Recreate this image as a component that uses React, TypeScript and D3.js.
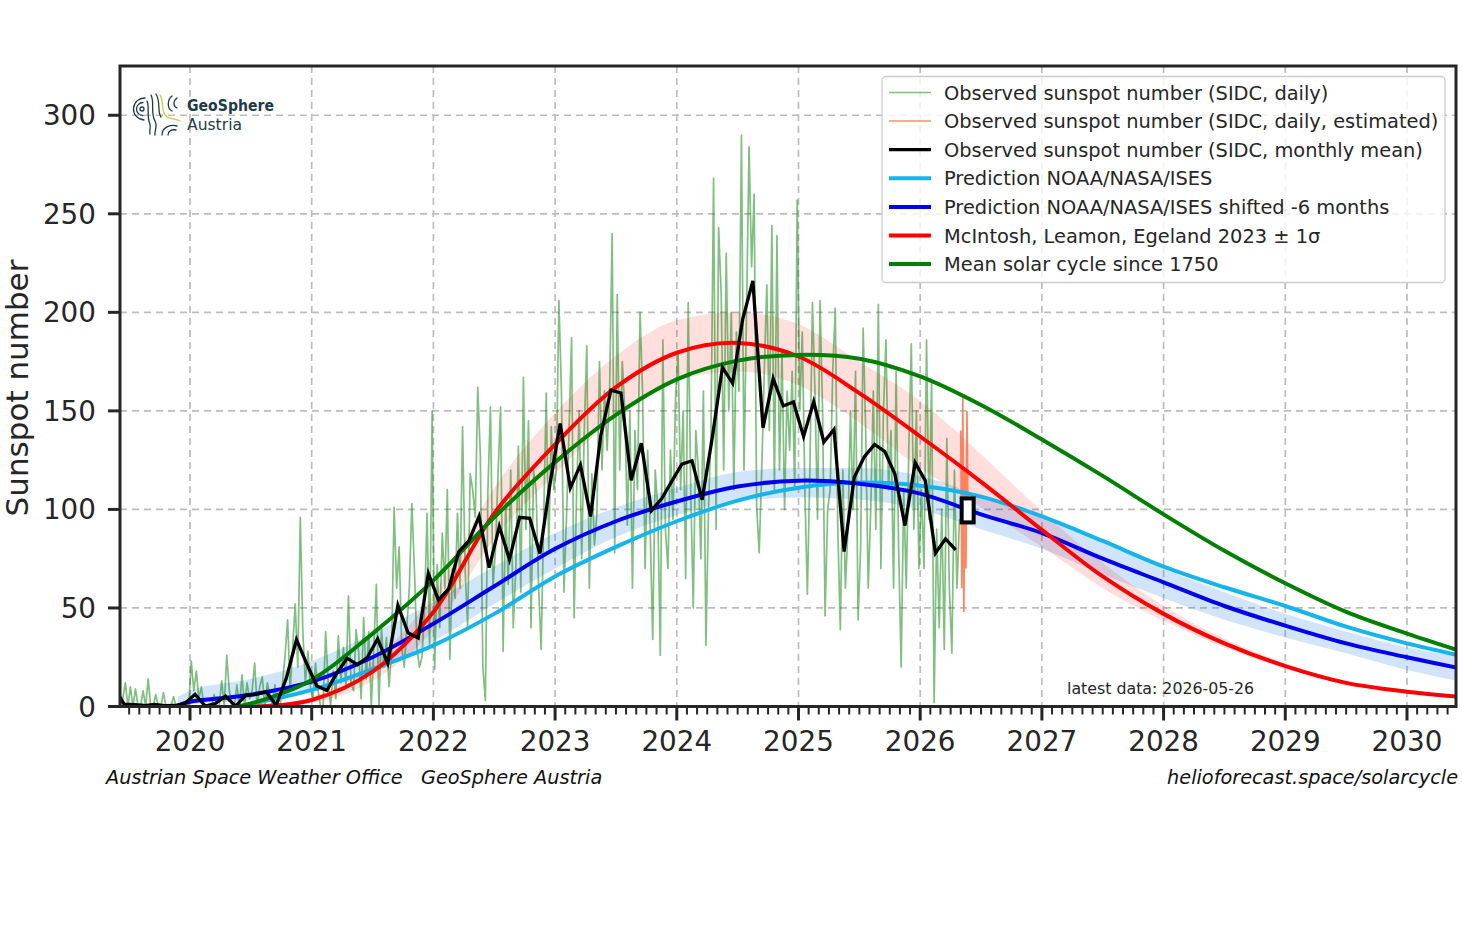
import React from "react";
import * as d3 from "d3";

// ---------------- data ----------------
const yTickValues = [0, 50, 100, 150, 200, 250, 300];
const xTickYears = [2020, 2021, 2022, 2023, 2024, 2025, 2026, 2027, 2028, 2029, 2030];

// SIDC monthly mean, from May 2019, plotted at mid-month
const monthlyStart = 2019 + 4 / 12;
const monthlyMean = [
  9.9, 1.2, 0.9, 0.5, 1.1, 0.4, 0.5, 1.5,
  6.2, 0.2, 1.5, 5.2, 0.2, 5.8, 6.1, 7.5, 0.6, 14.4, 34.0, 21.8,
  10.4, 8.2, 17.2, 24.5, 21.2, 25.0, 34.3, 22.0, 51.3, 37.4, 34.8, 67.5,
  54.0, 59.7, 78.5, 84.1, 96.5, 70.5, 91.4, 74.6, 96.0, 95.5, 77.6, 113.1,
  143.6, 110.9, 122.6, 96.4, 137.4, 160.5, 159.1, 114.8, 133.6, 99.4, 105.4, 114.2,
  123.0, 124.7, 104.9, 136.5, 172.1, 164.0, 196.6, 216.0, 141.4, 166.4, 152.5, 154.5,
  137.0, 154.6, 134.2, 140.6, 78.6, 116.3, 126.8, 133.0, 129.5, 118.0, 91.8, 123.7,
  114.6, 77.8, 85.1, 79.5,
];

// SIDC daily values (4 samples per month), from June 2019
const dailyStart = 2019 + 5 / 12;
const dailyObserved = [
  // 2019 Jun-Dec
  0, 4, 12, 0, 10, 0, 9, 0, 0, 8, 0, 14, 0, 0, 6, 0, 0, 7, 0, 0, 0, 5, 0, 0, 0, 0, 3, 0,
  // 2020
  23, 8, 18, 4, 10, 0, 0, 0, 0, 6, 0, 0, 13, 0, 26, 8, 0, 0, 11, 0, 16, 0, 12, 4,
  8, 22, 0, 10, 15, 0, 12, 6, 0, 11, 0, 0, 12, 26, 44, 8, 30, 52, 20, 96, 38, 12, 28, 10,
  // 2021
  4, 22, 8, 0, 0, 38, 12, 0, 18, 4, 36, 12, 30, 10, 56, 12, 8, 39, 28, 4, 45, 14, 38, 0,
  30, 62, 0, 40, 20, 35, 10, 28, 101, 60, 81, 30, 20, 40, 60, 103, 70, 30, 20, 25, 50, 98, 30, 150,
  // 2022
  19, 72, 40, 88, 60, 110, 24, 70, 55, 98, 60, 142, 70, 40, 118, 110, 96, 162, 128, 20, 3, 110, 152, 60,
  80, 118, 152, 28, 104, 62, 120, 40, 70, 132, 58, 167, 90, 145, 40, 120, 110, 60, 29, 95, 159, 80, 142, 110,
  // 2023
  120, 206, 160, 58, 96, 140, 187, 45, 110, 150, 75, 140, 183, 60, 118, 82, 98, 175, 120, 160, 130, 160, 240, 78,
  209, 120, 175, 150, 92, 150, 60, 140, 110, 200, 160, 70, 130, 90, 34, 120, 100, 26, 186, 90, 70, 130, 95, 156,
  // 2024
  180, 110, 150, 65, 205, 110, 50, 140, 120, 75, 160, 31, 100, 140, 268, 90, 243, 210, 120, 230, 150, 200, 110, 190,
  160, 290, 120, 200, 284, 223, 260, 101, 78, 120, 170, 214, 140, 244, 110, 239, 120, 180, 100, 160, 130, 170, 110, 257,
  // 2025
  150, 190, 110, 57, 120, 205, 160, 95, 206, 150, 46, 100, 110, 170, 202, 90, 39, 120, 60, 90, 150, 100, 170, 44,
  80, 192, 140, 60, 100, 160, 90, 204, 70, 150, 186, 110, 140, 60, 170, 80, 20, 110, 60, 130, 184, 90, 150, 70,
  // 2026 Jan-Apr
  110, 70, 186, 95, 165, 2, 90, 40, 100, 29, 136, 60, 27, 120, 60, 95,
];

// SIDC daily, estimated (May 2026)
const estimatedStart = 2026 + 4 / 12;
const estimatedDaily = [140, 60, 157, 48, 120, 70, 150, 95];

// Prediction NOAA/NASA/ISES
const noaaYears = [2020.4, 2020.5, 2021, 2021.5, 2022, 2022.5, 2023, 2023.5, 2024, 2024.5, 2025, 2025.5, 2026, 2026.5, 2027, 2027.5, 2028, 2028.5, 2029, 2029.5, 2030, 2030.5];
const noaaValues = [0, 1.2, 8.4, 19, 31, 47, 66, 81, 94, 104.5, 111, 113.6, 112, 106.5, 96.5, 84, 71, 60.5, 51, 40.5, 32, 25];

// Prediction NOAA/NASA/ISES shifted -6 months, with band
const shiftedYears = [2019.9, 2020, 2020.5, 2021, 2021.5, 2022, 2022.5, 2023, 2023.5, 2024, 2024.5, 2025, 2025.5, 2026, 2026.5, 2027, 2027.5, 2028, 2028.5, 2029, 2029.5, 2030, 2030.5];
const shiftedValues = [0.5, 2.4, 6, 12.6, 25, 42, 61, 80, 94, 104, 111.6, 114.6, 113, 108, 97.5, 88, 75, 63, 51, 41, 32, 25, 18.5];
const shiftedLow = [0, 1, 3, 8, 17, 33, 52, 70, 86, 97, 104, 106, 105, 100, 90, 80, 67, 55, 44, 35, 27, 18.5, 12];
const shiftedHigh = [5, 8, 14, 23, 37, 53, 71, 88, 101, 111, 119, 121, 121, 117, 107, 97, 84, 70, 58, 47, 38, 30, 25];

// McIntosh, Leamon, Egeland 2023 +- 1 sigma
const mclYears = [2020.55, 2021, 2021.5, 2022, 2022.5, 2023, 2023.5, 2024, 2024.5, 2025, 2025.5, 2026, 2026.5, 2027, 2027.5, 2028, 2028.5, 2029, 2029.5, 2030, 2030.5];
const mclValues = [0, 3.3, 17.7, 48, 98, 133, 162, 179.5, 184.5, 177.6, 159, 137, 114, 89.6, 66, 47, 32, 20.5, 12, 7.5, 4.5];
const mclLow = [0, 2, 13, 39, 85, 118, 147, 165, 170, 163, 144, 121, 101, 81, 60, 43.5, 30, 19.5, 11.3, 7, 4.2];
const mclHigh = [0, 5, 23, 57, 111, 149, 178, 196, 200, 194, 175, 155, 128, 99, 73, 51, 34.5, 22, 13, 8.5, 5.2];

// Mean solar cycle since 1750
const meanYears = [2020.38, 2020.5, 2021, 2021.5, 2022, 2022.5, 2023, 2023.5, 2024, 2024.5, 2025, 2025.5, 2026, 2026.5, 2027, 2027.5, 2028, 2028.5, 2029, 2029.5, 2030, 2030.5];
const meanValues = [0, 1.5, 13.5, 37, 64, 96, 124, 148, 166, 175.5, 178.4, 176.5, 167.5, 153, 135.5, 117, 97.5, 79, 62.5, 48, 37, 27];

// current position marker
const markerYear = 2026.39;
const markerValue = 99.5;

const legendLabels = [
  "Observed sunspot number (SIDC, daily)",
  "Observed sunspot number (SIDC, daily, estimated)",
  "Observed sunspot number (SIDC, monthly mean)",
  "Prediction NOAA/NASA/ISES",
  "Prediction NOAA/NASA/ISES shifted -6 months",
  "McIntosh, Leamon, Egeland 2023 \u00b1 1\u03c3",
  "Mean solar cycle since 1750",
];
const latestDataText = "latest data: 2026-05-26";

// ---------------- styles ----------------
const C = {
  text: "#262626",
  daily: "#008000",
  est: "#ff7043",
  monthly: "#000000",
  noaa: "#14b4ec",
  shifted: "#0000ee",
  mcl: "#ff0000",
  mean: "#008000",
  grid: "#bdbdbd",
  logo: "#1d3b47",
};
const legendStyles = [
  { stroke: C.daily, w: 1.5, op: 0.5 },
  { stroke: C.est, w: 1.5, op: 0.8 },
  { stroke: C.monthly, w: 3.2, op: 1 },
  { stroke: C.noaa, w: 4, op: 1 },
  { stroke: C.shifted, w: 4, op: 1 },
  { stroke: C.mcl, w: 4, op: 1 },
  { stroke: C.mean, w: 4, op: 1 },
];

const L = 120, R = 1456, T = 66, B = 706.5;
const FONT = "'DejaVu Sans', sans-serif";

export default function App() {
  const x = d3.scaleLinear().domain([2019.4248, 2030.4027]).range([L, R]);
  const y = d3.scaleLinear().domain([0, 325]).range([B, T]);

  const smooth = d3.curveCatmullRom.alpha(0.5);

  const mkLine = (years: number[], vals: number[], curve: any) =>
    d3.line<number>().x((_, i) => x(years[i])).y((d) => y(d)).curve(curve)(vals) || "";
  const mkArea = (years: number[], lo: number[], hi: number[]) =>
    d3.area<number>()
      .x((_, i) => x(years[i]))
      .y0((_, i) => y(lo[i]))
      .y1((_, i) => y(hi[i]))
      .curve(d3.curveMonotoneX)(lo) || "";

  const dailyYears = dailyObserved.map((_, i) => dailyStart + (i + 0.5) / 48);
  const estYears = estimatedDaily.map((_, i) => estimatedStart + (i * 0.068) / 8);
  const monthlyYears = monthlyMean.map((_, i) => monthlyStart + (i + 0.5) / 12);

  const minorTicks: number[] = [];
  for (let m = 0; m < 12 * 12; m++) {
    const t = 2019 + m / 12;
    if (t > x.domain()[0] && t < x.domain()[1] && m % 12 !== 0) minorTicks.push(t);
  }

  return (
    <svg
      width={1462}
      height={946}
      style={{ position: "absolute", left: 0, top: 0, background: "#fff" }}
      fontFamily={FONT}
    >
      <defs>
        <clipPath id="plotClip">
          <rect x={L} y={T} width={R - L} height={B - T} />
        </clipPath>
      </defs>
      <rect x={0} y={0} width={1462} height={946} fill="#fff" />

      {/* grid */}
      <g stroke={C.grid} strokeWidth={1.7} strokeDasharray="7,5">
        {xTickYears.map((t) => (
          <line key={"gx" + t} x1={x(t)} x2={x(t)} y1={T} y2={B} />
        ))}
        {yTickValues.map((v) => (
          <line key={"gy" + v} x1={L} x2={R} y1={y(v)} y2={y(v)} />
        ))}
      </g>

      <g clipPath="url(#plotClip)">
        {/* bands */}
        <path d={mkArea(shiftedYears, shiftedLow, shiftedHigh)} fill="#1e78e6" fillOpacity={0.2} />
        <path d={mkArea(mclYears, mclLow, mclHigh)} fill="#ff0000" fillOpacity={0.13} />

        {/* daily */}
        <path
          d={mkLine(dailyYears, dailyObserved, d3.curveLinear)}
          fill="none"
          stroke={C.daily}
          strokeOpacity={0.5}
          strokeWidth={1.7}
          strokeLinejoin="round"
        />
        <path
          d={mkLine(estYears, estimatedDaily, d3.curveLinear)}
          fill="none"
          stroke={C.est}
          strokeOpacity={0.85}
          strokeWidth={1.7}
        />

        {/* predictions */}
        <path d={mkLine(noaaYears, noaaValues, smooth)} fill="none" stroke={C.noaa} strokeWidth={4} />
        <path d={mkLine(shiftedYears, shiftedValues, smooth)} fill="none" stroke={C.shifted} strokeWidth={4} />
        <path d={mkLine(mclYears, mclValues, smooth)} fill="none" stroke={C.mcl} strokeWidth={4} />
        <path d={mkLine(meanYears, meanValues, smooth)} fill="none" stroke={C.mean} strokeWidth={4} />

        {/* monthly mean */}
        <path
          d={mkLine(monthlyYears, monthlyMean, d3.curveLinear)}
          fill="none"
          stroke={C.monthly}
          strokeWidth={3.3}
          strokeLinejoin="miter"
        />

        {/* current marker */}
        <rect
          x={x(markerYear) - 6}
          y={y(markerValue) - 12}
          width={12}
          height={24}
          fill="#fff"
          stroke="#000"
          strokeWidth={4}
        />
      </g>

      {/* latest data */}
      <text x={1067} y={694} fontSize={15.8} fill={C.text}>
        {latestDataText}
      </text>

      {/* spines */}
      <rect x={L} y={T} width={R - L} height={B - T} fill="none" stroke={C.text} strokeWidth={3} />

      {/* y ticks */}
      {yTickValues.map((v) => (
        <g key={"yt" + v}>
          <line x1={L - 12} x2={L} y1={y(v)} y2={y(v)} stroke={C.text} strokeWidth={3} />
          <text x={96} y={y(v) + 10} textAnchor="end" fontSize={27.8} fill={C.text}>
            {v}
          </text>
        </g>
      ))}

      {/* x ticks */}
      {minorTicks.map((t) => (
        <line key={"mt" + t} x1={x(t)} x2={x(t)} y1={B} y2={B + 8} stroke={C.text} strokeWidth={2} />
      ))}
      {xTickYears.map((t) => (
        <g key={"xt" + t}>
          <line x1={x(t)} x2={x(t)} y1={B} y2={B + 14} stroke={C.text} strokeWidth={3} />
          <text x={x(t)} y={751} textAnchor="middle" fontSize={27.8} fill={C.text}>
            {t}
          </text>
        </g>
      ))}

      {/* y label */}
      <text
        transform={`translate(28,388) rotate(-90)`}
        textAnchor="middle"
        fontSize={31}
        fill={C.text}
      >
        Sunspot number
      </text>

      {/* footer */}
      <text x={106} y={784} fontSize={19.3} fontStyle="italic" fill="#111">
        Austrian Space Weather Office
      </text>
      <text x={421} y={784} fontSize={19.3} fontStyle="italic" fill="#111">
        GeoSphere Austria
      </text>
      <text x={1458} y={784} fontSize={19.3} fontStyle="italic" fill="#111" textAnchor="end">
        helioforecast.space/solarcycle
      </text>

      {/* legend */}
      <g>
        <rect x={882} y={76.5} width={563} height={206} rx={4} fill="#fff" fillOpacity={0.8} stroke="#cccccc" strokeWidth={1.3} />
        {legendLabels.map((lab, i) => {
          const cy = 92.5 + i * 28.6;
          const s = legendStyles[i];
          return (
            <g key={"lg" + i}>
              <line x1={889} x2={931} y1={cy} y2={cy} stroke={s.stroke} strokeWidth={s.w} strokeOpacity={s.op} />
              <text x={944} y={cy + 7} fontSize={19.4} fill={C.text}>
                {lab}
              </text>
            </g>
          );
        })}
      </g>

      {/* logo */}
      <g fill="none" stroke={C.logo} strokeWidth={1.3} strokeLinecap="round">
        <circle cx={142} cy={109} r={2} />
        <path d="M143 102.5 A6.5 6.5 0 0 0 143 115.5" />
        <path d="M145 98 A11 11 0 0 0 144 120" />
        <path d="M151 95 C155 103 150 112 155 121 C158 127 154 131 155 135" />
        <path d="M147 101 C150 108 146 116 150 124 C151 128 149 131 150 134" />
        <path d="M172 96 C167 100 167 108 172 111" />
        <path d="M177 98 C173 101 173 106 177 108" />
        <path d="M162 135 C162 128 169 124 177 126" />
        <path d="M168 135 C168 131 172 129 176 130" />
        <path d="M156 94 C161 102 157 112 161 117" />
        <path d="M160 95 C165 103 160 110 166 116 C170 120 176 118 180 121" stroke="#c9d651" strokeWidth={1.5} />
      </g>
      <text x={187} y={111} fontSize={15} fontWeight="bold" fill={C.logo} textLength={87} lengthAdjust="spacingAndGlyphs">
        GeoSphere
      </text>
      <text x={187} y={130} fontSize={15.5} fill={C.logo} textLength={55} lengthAdjust="spacingAndGlyphs">
        Austria
      </text>
    </svg>
  );
}
